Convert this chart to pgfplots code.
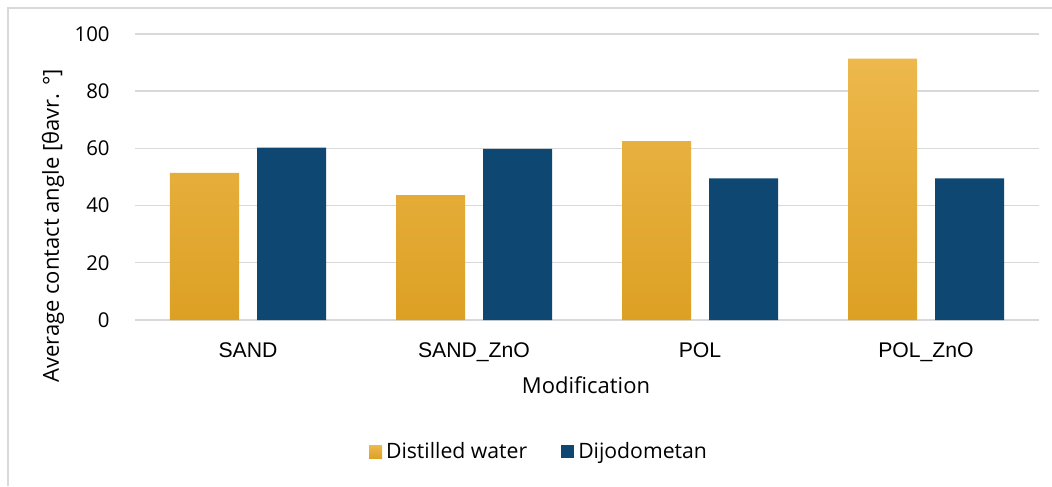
\documentclass[border=0pt]{standalone}
\usepackage{pgfplots}
\pgfplotsset{compat=1.18}
\usepackage{fontspec}
\setmainfont{Open Sans}
\newfontfamily\arialf{Liberation Sans}
\definecolor{dij}{HTML}{0E4771}
\definecolor{wtop}{HTML}{EDB84C}
\definecolor{wmid}{HTML}{F0B121}
\definecolor{wbot}{HTML}{DCA024}
\definecolor{gridc}{HTML}{D9D9D9}
\begin{document}
\begin{tikzpicture}
\useasboundingbox (-67.5pt,-83pt) rectangle (458.5pt,160pt);
\draw[gridc, line width=0.6pt] (-63.5pt,-83pt) -- (-63.5pt,156pt) -- (458.5pt,156pt);
\begin{axis}[
  at={(0,0)}, anchor=south west,
  scale only axis, width=452pt, height=143pt,
  xmin=-0.5, xmax=3.5, ymin=0, ymax=100,
  xtick={0,1,2,3},
  xticklabels={SAND,SAND\_ZnO,POL,POL\_ZnO},
  ytick={0,20,40,60,80,100},
  /pgf/number format/assume math mode=true,
  axis line style={draw=none},
  major tick length=0pt,
  ymajorgrids, grid style={gridc, line width=0.7pt},
  yticklabel style={font=\fontsize{10.2}{12}\selectfont, anchor=east, inner sep=0pt, xshift=-12.5pt},
  xticklabel style={font=\arialf\fontsize{10.6}{12}\selectfont, anchor=north, inner sep=0pt, yshift=-11pt},
  bar width=34.5pt,
  legend style={at={(0.448,-0.4615)}, anchor=center, draw=none, fill=none,
    legend columns=2, font=\fontsize{10.6}{12}\selectfont,
    /tikz/every even column/.append style={column sep=15pt},
    inner sep=0pt},
  legend image code/.code={\fill[#1] (0pt,-3.25pt) rectangle (6.5pt,3.25pt);},
  clip=false,
]
\addplot[ybar, bar shift=-21.75pt, draw=none, top color=wtop, middle color=wmid, bottom color=wbot]
  coordinates {(0,51.4) (1,43.7) (2,62.5) (3,91.4)};
\addlegendentry{Distilled water}
\addplot[ybar, bar shift=21.75pt, draw=none, fill=dij]
  coordinates {(0,60.3) (1,59.8) (2,49.5) (3,49.5)};
\addlegendentry{Dijodometan}
\end{axis}
\node[rotate=90, font=\fontsize{11}{12}\selectfont, inner sep=0pt] at (-41pt,47pt) {Average contact angle [θavr. °]};
\node[font=\fontsize{11}{12}\selectfont, inner sep=0pt] at (225.5pt,-32.5pt) {Modification};
\end{tikzpicture}
\end{document}
